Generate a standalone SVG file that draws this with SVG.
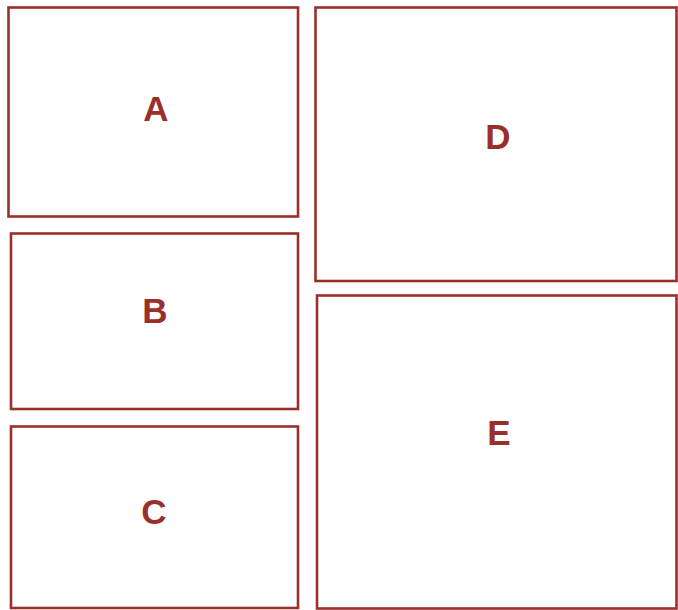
<svg xmlns="http://www.w3.org/2000/svg" width="678" height="610" viewBox="0 0 678 610">
<style>
.box{fill:#ffffff;stroke:#9a2f2c;stroke-width:2.6}
.lbl{font-family:"Liberation Sans",Arial,sans-serif;font-weight:bold;font-size:35px;fill:#9a2f2c;text-anchor:middle}
</style>
<rect width="678" height="610" fill="#ffffff"/>
<g id="A"><rect class="box" x="8.5" y="7.5" width="289.5" height="209"/><text class="lbl" x="156" y="121">A</text></g>
<g id="B"><rect class="box" x="11" y="233.5" width="287" height="175.5"/><text class="lbl" x="155" y="323">B</text></g>
<g id="C"><rect class="box" x="11" y="426.5" width="287" height="181.5"/><text class="lbl" x="154" y="524">C</text></g>
<g id="D"><rect class="box" x="315.5" y="7.5" width="361" height="273.5"/><text class="lbl" x="498" y="149">D</text></g>
<g id="E"><rect class="box" x="317" y="295.5" width="359.5" height="313"/><text class="lbl" x="499" y="445">E</text></g>
<g id="connectors"></g>
</svg>
